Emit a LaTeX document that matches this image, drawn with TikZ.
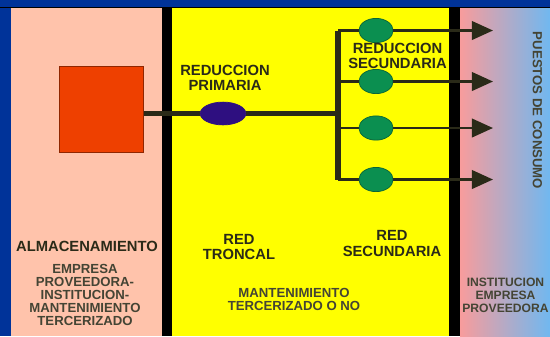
\documentclass[tikz,border=0pt]{standalone}
\usepackage{fontspec}
\usepackage{xcolor}
\setmainfont{Liberation Sans}
\usetikzlibrary{arrows.meta}
\usetikzlibrary{shapes.geometric}
\definecolor{fondoazul}{HTML}{003399}
\definecolor{salmon}{HTML}{FFC3AB}
\definecolor{amarillo}{HTML}{FFFF00}
\definecolor{rosado}{HTML}{F89C9C}
\definecolor{celeste}{HTML}{70B8F0}
\definecolor{naranja}{HTML}{EE4000}
\definecolor{morado}{HTML}{2E0F80}
\definecolor{verde}{HTML}{0B8F50}
\definecolor{tinta}{HTML}{2A2A18}
\tikzset{
  titulo/.style={font=\bfseries\fontsize{8.4}{8.6}\selectfont, text=tinta, align=center, inner sep=0pt},
  detalle/.style={font=\bfseries\fontsize{7.5}{7.4}\selectfont, text=tinta!88!white, align=center, inner sep=0pt},
  troncal/.style={draw=tinta, line width=3pt},
  ramal/.style={draw=tinta, line width=1.5pt},
  flecha/.style={ramal, -{Triangle[length=12pt,width=10.5pt,fill=tinta]}},
  reductor/.style={ellipse, draw=verde!70!black, fill=verde, line width=0.4pt, minimum width=19.5pt, minimum height=13.8pt, inner sep=0pt},
}
\begin{document}
\begin{tikzpicture}[x=0.02cm,y=-0.02cm]
    \useasboundingbox (0,0) rectangle (550,336);
    % fondo y franjas
    \fill[fondoazul] (0,0) rectangle (550,336);
    \fill[salmon] (11,8) rectangle (162,336);
    \fill[amarillo] (172,8) rectangle (449,336);
    \shade[left color=rosado, right color=celeste] (460,8) rectangle (550,336);
    \fill[black] (0,7) rectangle (550,8);
    \fill[black] (162,8) rectangle (172,336);
    \fill[black] (449,8) rectangle (460,336);

    % red
    \node[draw=naranja!60!black, fill=naranja, line width=0.6pt, minimum width=48pt, minimum height=49pt, inner sep=0pt] (almacen) at (101.5,109.5) {};
    \node[ellipse, draw=morado, fill=morado, minimum width=26pt, minimum height=13pt, inner sep=0pt] (primaria) at (223,113.5) {};
    \coordinate (nudo) at (338,113.5);
    \coordinate (arriba) at (338,30.5);
    \coordinate (abajo) at (338,179.5);
    \coordinate (medio2) at (338,81.5);
    \coordinate (medio3) at (338,128);
    \node[reductor] (sec1) at (376,30.5) {};
    \node[reductor] (sec2) at (376,81.5) {};
    \node[reductor] (sec3) at (376,128) {};
    \node[reductor] (sec4) at (376,179.5) {};
    \coordinate (fin1) at (493,30.5);
    \coordinate (fin2) at (493,81.5);
    \coordinate (fin3) at (493,128);
    \coordinate (fin4) at (493,179.5);

    \draw[troncal] (almacen.east |- primaria.west) -- (primaria.west);
    \draw[troncal] (primaria.east) -- (nudo);
    \draw[troncal, line cap=square] (arriba) -- (abajo);
    \draw[ramal] (arriba) -- (sec1);
    \draw[ramal] (medio2) -- (sec2);
    \draw[ramal] (medio3) -- (sec3);
    \draw[ramal] (abajo) -- (sec4);
    \draw[flecha] (sec1) -- (fin1);
    \draw[flecha] (sec2) -- (fin2);
    \draw[flecha] (sec3) -- (fin3);
    \draw[flecha] (sec4) -- (fin4);

    % textos
    \node[titulo] (tprimaria) at (225,78) {REDUCCION\\PRIMARIA};
    \node[titulo] (tsecundaria) at (397.5,56) {REDUCCION\\SECUNDARIA};
    \node[titulo] (talmacen) at (87,246) {ALMACENAMIENTO};
    \node[detalle] (tempresa) at (85,294.5) {EMPRESA\\PROVEEDORA-\\INSTITUCION-\\MANTENIMIENTO\\TERCERIZADO};
    \node[titulo] (ttroncal) at (239,247) {RED\\TRONCAL};
    \node[titulo] (tredsec) at (392,243.5) {RED\\SECUNDARIA};
    \node[detalle] (tmant) at (294,299.5) {MANTENIMIENTO\\TERCERIZADO O NO};
    \node[detalle, font=\bfseries\fontsize{6.9}{7.4}\selectfont] (tinst) at (505.5,295) {INSTITUCION\\EMPRESA\\PROVEEDORA};
    \node[detalle, rotate=-90] (tpuestos) at (537.5,110.5) {PUESTOS DE CONSUMO};
\end{tikzpicture}
\end{document}
